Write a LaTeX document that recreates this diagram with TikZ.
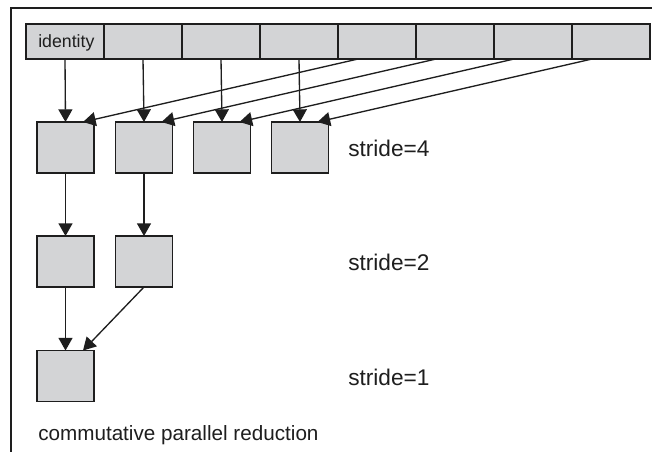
\documentclass[tikz,border=0pt]{standalone}
\usepackage{fontspec}
\setmainfont{Liberation Sans}
\usetikzlibrary{arrows.meta}
\definecolor{cellgray}{HTML}{D3D4D6}
\definecolor{ink}{HTML}{1E1E1E}
\begin{document}
\begin{tikzpicture}[x=0.75pt,y=-0.75pt,
  cellbox/.style={draw=ink,fill=cellgray,line width=1.1pt,minimum width=58.5pt,minimum height=26.25pt,inner sep=0pt,outer sep=0pt,anchor=center},
  sqbox/.style={draw=ink,fill=cellgray,line width=1pt,minimum width=42.75pt,minimum height=38.25pt,inner sep=0pt,outer sep=0pt,anchor=center},
  arr/.style={draw=ink,line width=1pt,-{Triangle[length=9.5pt,width=10.5pt]}},
  lbl/.style={inner sep=0pt,anchor=base west,text=ink,font=\fontsize{17}{19}\selectfont}
]
\clip (0,0) rectangle (652,451);
\fill[white] (0,0) rectangle (652,451);
% frame
\coordinate (ftl) at (11,8);
\coordinate (ftr) at (660,8);
\coordinate (fbl) at (11,460);
\draw[ink,line width=0.9pt] (fbl) -- (ftl) -- (ftr);
% top row cells
\foreach \i/\x in {1/65,2/143,3/221,4/299,5/377,6/455,7/533,8/611}
  \node[cellbox] (c\i) at (\x,41.5) {};
\node[inner sep=0pt,anchor=base west,text=ink,font=\fontsize{13.3}{15}\selectfont] (idt) at (38,47) {identity};
% stride 4 squares
\node[sqbox] (a1) at (65.5,147.5) {};
\node[sqbox] (a2) at (144,147.5) {};
\node[sqbox] (a3) at (222,147.5) {};
\node[sqbox] (a4) at (300,147.5) {};
% stride 2
\node[sqbox] (b1) at (65.5,261.5) {};
\node[sqbox] (b2) at (144,261.5) {};
% stride 1
\node[sqbox] (d1) at (65.5,376) {};
% arrows
\foreach \i in {1,2,3,4}
  \draw[arr] (c\i.south) -- (a\i.north);
\foreach \s/\t in {5/1,6/2,7/3,8/4}
  \draw[arr] ([xshift=15pt]c\s.south west) -- ([xshift=-8.25pt]a\t.north east);
\draw[arr] (a1.south) -- (b1.north);
\draw[arr] (a2.south) -- (b2.north);
\draw[arr] (b1.south) -- (d1.north);
\draw[arr] (b2.south) -- ([xshift=-8.25pt]d1.north east);
% labels
\node[lbl] (l4) at (348,156) {stride=4};
\node[lbl] (l2) at (348,270) {stride=2};
\node[lbl] (l1) at (348,385) {stride=1};
\node[lbl,font=\fontsize{15.5}{17}\selectfont] (cap) at (38,440) {commutative parallel reduction};
\end{tikzpicture}
\end{document}
